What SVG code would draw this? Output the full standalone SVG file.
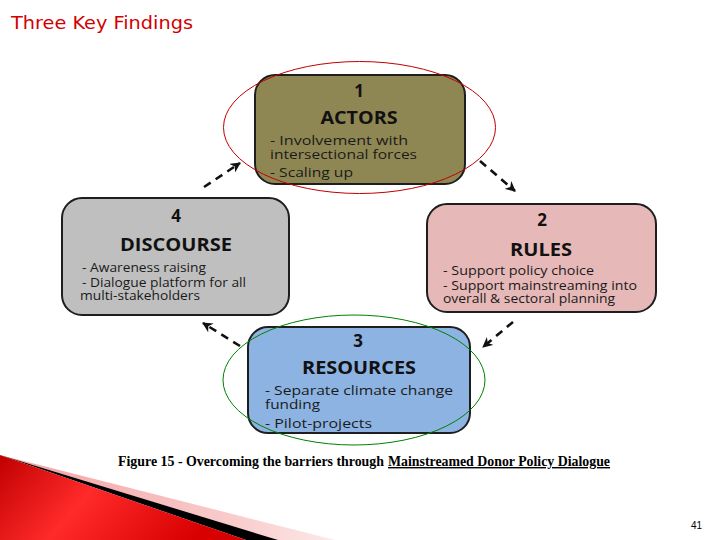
<svg xmlns="http://www.w3.org/2000/svg" width="720" height="540" viewBox="0 0 720 540">
  <defs>
    <style>
      .box { stroke: #1e1e1e; stroke-width: 2; }
      .num { font-family: "Open Sans", "Liberation Sans", sans-serif; font-weight: bold; font-size: 17px; fill: #111; text-anchor: middle; }
      .head { font-family: "Open Sans", "Liberation Sans", sans-serif; font-weight: bold; font-size: 17px; fill: #111; text-anchor: middle; }
      .body { font-family: "Open Sans", "Liberation Sans", sans-serif; font-size: 12px; fill: #1a1a1a; }
      .conn { fill: none; stroke: #111; stroke-width: 2.6; stroke-dasharray: 8 6; }
      .cap { font-family: "Liberation Serif", serif; font-weight: bold; font-size: 14px; fill: #000; }
    </style>
    <marker id="arr" viewBox="0 0 10 10" refX="9" refY="5" markerWidth="4" markerHeight="4" orient="auto" markerUnits="strokeWidth">
      <path d="M0,0 L10,5 L0,10 L3,5 z" fill="#111"/>
    </marker>
    <linearGradient id="redg" x1="0" y1="0" x2="1" y2="0.3">
      <stop offset="0" stop-color="#c00000"/>
      <stop offset="0.45" stop-color="#ff2a2a"/>
      <stop offset="1" stop-color="#d80000"/>
    </linearGradient>
    <linearGradient id="pinkg" x1="0" y1="0" x2="1" y2="0">
      <stop offset="0" stop-color="#f4a0a0"/>
      <stop offset="0.7" stop-color="#f9cccc"/>
      <stop offset="1" stop-color="#fde9e9"/>
    </linearGradient>
  </defs>
  <rect width="720" height="540" fill="#ffffff"/>

  <g id="decoration">
    <polygon points="0,455 335,540 276,540" fill="url(#pinkg)"/>
    <polygon points="0,455 278,540 246,540" fill="#000"/>
    <polygon points="0,455 246,540 0,540" fill="url(#redg)"/>
  </g>

  <text id="title" x="11" y="29" font-family="DejaVu Sans, sans-serif" font-size="18" fill="#d20000" textLength="182" lengthAdjust="spacingAndGlyphs">Three Key Findings</text>

  <g id="connectors">
    <line class="conn" x1="204" y1="187" x2="240" y2="163" marker-end="url(#arr)"/>
    <line class="conn" x1="480" y1="161" x2="515" y2="191" marker-end="url(#arr)"/>
    <line class="conn" x1="513" y1="322" x2="483" y2="347" marker-end="url(#arr)"/>
    <line class="conn" x1="240" y1="346" x2="203" y2="323" marker-end="url(#arr)"/>
  </g>

  <g id="node1">
    <rect class="box" x="255" y="75" width="210" height="109" rx="20" fill="#8f8753"/>
    <text class="num" x="359" y="97">1</text>
    <text class="head" x="359" y="124" textLength="77" lengthAdjust="spacingAndGlyphs">ACTORS</text>
    <text class="body" x="270" y="145" textLength="138" lengthAdjust="spacingAndGlyphs">- Involvement with</text>
    <text class="body" x="270" y="159" textLength="147" lengthAdjust="spacingAndGlyphs">intersectional forces</text>
    <text class="body" x="270" y="177" textLength="83" lengthAdjust="spacingAndGlyphs">- Scaling up</text>
  </g>

  <g id="node2">
    <rect class="box" x="427" y="204" width="229" height="108" rx="20" fill="#e6b9b8"/>
    <text class="num" x="542" y="226">2</text>
    <text class="head" x="541" y="256" textLength="62" lengthAdjust="spacingAndGlyphs">RULES</text>
    <text class="body" x="443" y="275" textLength="151" lengthAdjust="spacingAndGlyphs">-  Support policy choice</text>
    <text class="body" x="443" y="290" textLength="194" lengthAdjust="spacingAndGlyphs">-  Support mainstreaming into</text>
    <text class="body" x="443" y="303" textLength="172" lengthAdjust="spacingAndGlyphs">overall &amp; sectoral planning</text>
  </g>

  <g id="node3">
    <rect class="box" x="248" y="327" width="222" height="106" rx="20" fill="#8db3e2"/>
    <text class="num" x="358" y="347">3</text>
    <text class="head" x="359" y="374" textLength="114" lengthAdjust="spacingAndGlyphs">RESOURCES</text>
    <text class="body" x="265" y="395" textLength="188" lengthAdjust="spacingAndGlyphs">- Separate climate change</text>
    <text class="body" x="265" y="409" textLength="55" lengthAdjust="spacingAndGlyphs">funding</text>
    <text class="body" x="265" y="428" textLength="107" lengthAdjust="spacingAndGlyphs">- Pilot-projects</text>
  </g>

  <g id="node4">
    <rect class="box" x="62" y="198" width="227" height="117" rx="20" fill="#bfbfbf"/>
    <text class="num" x="176" y="222">4</text>
    <text class="head" x="176" y="251" textLength="112" lengthAdjust="spacingAndGlyphs">DISCOURSE</text>
    <text class="body" x="82" y="272" fill="#555" textLength="124" lengthAdjust="spacingAndGlyphs">- Awareness raising</text>
    <text class="body" x="82" y="287" textLength="164" lengthAdjust="spacingAndGlyphs">- Dialogue platform for all</text>
    <text class="body" x="80" y="300" textLength="120" lengthAdjust="spacingAndGlyphs">multi-stakeholders</text>
  </g>

  <g id="highlights">
    <ellipse cx="359.5" cy="127.5" rx="136" ry="66" fill="none" stroke="#c00000" stroke-width="1"/>
    <ellipse cx="354" cy="380" rx="131" ry="65" fill="none" stroke="#008000" stroke-width="1"/>
  </g>

  <g id="caption">
    <text class="cap" x="118" y="466" textLength="266" lengthAdjust="spacingAndGlyphs">Figure 15 - Overcoming the barriers through</text>
    <text class="cap" x="388" y="466" textLength="222" lengthAdjust="spacingAndGlyphs" text-decoration="underline">Mainstreamed Donor Policy Dialogue </text>
  </g>

  <text id="pagenum" x="691" y="529" font-family="Liberation Sans, sans-serif" font-size="10" fill="#000">41</text>
</svg>
